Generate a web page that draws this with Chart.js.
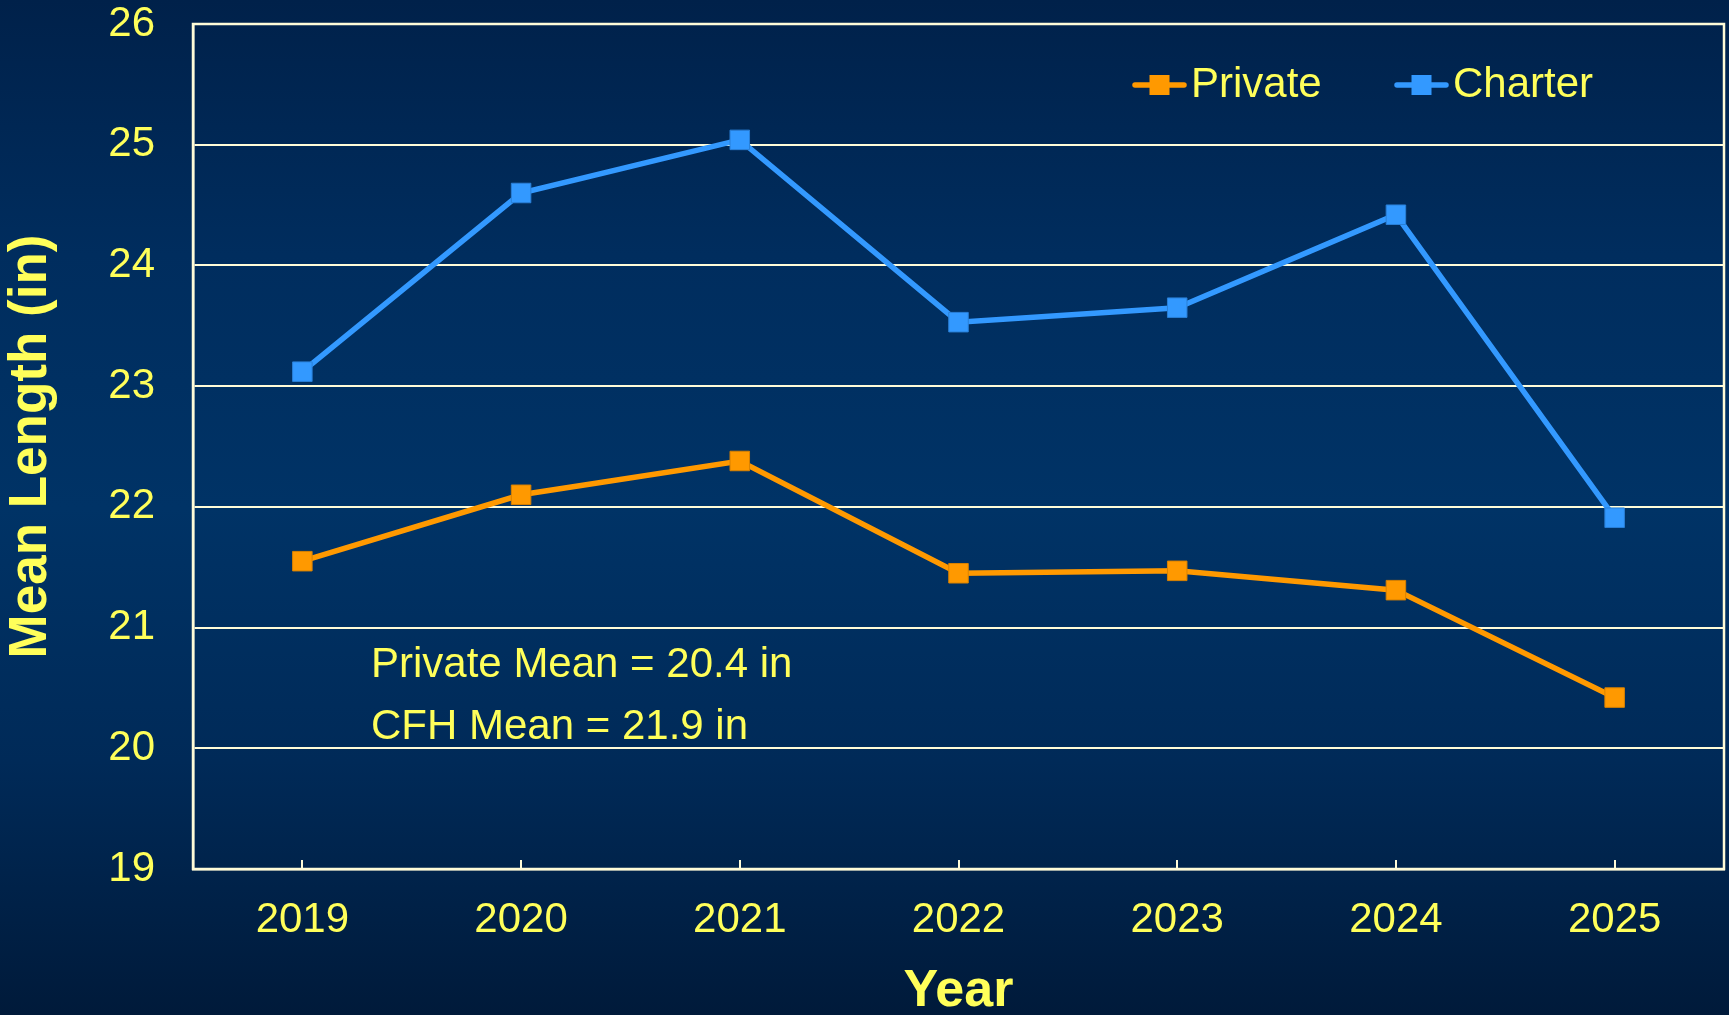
<!DOCTYPE html>
<html lang="en">
<head>
    <meta charset="UTF-8">
    <title>Mean Length by Year</title>
    <script src="https://cdn.jsdelivr.net/npm/chart.js"></script>
    <style>
        html, body {
            margin: 0;
            padding: 0;
            width: 1729px;
            height: 1015px;
            overflow: hidden;
        }
        body {
            background: linear-gradient(to bottom, #00214a 0%, #002d5e 25%, #003366 50%, #002a58 75%, #001a3a 100%);
            font-family: 'Liberation Sans', Arial, sans-serif;
        }
        #wrap {
            position: relative;
            width: 1729px;
            height: 1015px;
        }
    </style>
</head>
<body>
    <div id="wrap">
        <canvas id="lengthChart" width="1729" height="1015"></canvas>
    </div>

    <script>
        const years = ['2019', '2020', '2021', '2022', '2023', '2024', '2025'];
        const privateLength = [21.55, 22.10, 22.38, 21.45, 21.47, 21.31, 20.42];
        const charterLength = [23.12, 24.60, 25.04, 23.53, 23.65, 24.42, 21.91];
        const meanNotes = ['Private Mean = 20.4 in', 'CFH Mean = 21.9 in'];

        const yellow = '#ffff5a';
        const cream = '#fffcd8';
        const font = "'Liberation Sans', Arial, sans-serif";

        // frame, inward x ticks, legend and mean notes
        const extras = {
            id: 'extras',
            afterDraw(chart) {
                const ctx = chart.ctx;
                const area = chart.chartArea;
                const xs = chart.scales.x;
                ctx.save();

                ctx.strokeStyle = cream;
                ctx.lineWidth = 2.5;
                ctx.strokeRect(area.left, area.top, area.right - area.left, area.bottom - area.top);

                ctx.lineWidth = 2;
                xs.ticks.forEach((t, i) => {
                    const px = Math.round(xs.getPixelForTick(i));
                    ctx.beginPath();
                    ctx.moveTo(px, area.bottom);
                    ctx.lineTo(px, area.bottom - 9);
                    ctx.stroke();
                });

                // legend
                const legendX = [1133, 1395];
                chart.data.datasets.forEach((ds, i) => {
                    const x0 = legendX[i];
                    const y0 = 85;
                    ctx.strokeStyle = ds.borderColor;
                    ctx.lineWidth = 5.5;
                    ctx.lineCap = 'round';
                    ctx.beginPath();
                    ctx.moveTo(x0 + 2, y0);
                    ctx.lineTo(x0 + 51, y0);
                    ctx.stroke();
                    ctx.fillStyle = ds.backgroundColor;
                    ctx.fillRect(x0 + 16.5, y0 - 10, 20, 20);
                    ctx.fillStyle = yellow;
                    ctx.font = '42px ' + font;
                    ctx.textBaseline = 'middle';
                    ctx.textAlign = 'left';
                    ctx.fillText(ds.label, x0 + 58, y0);
                });

                // mean notes
                ctx.fillStyle = yellow;
                ctx.font = '42px ' + font;
                ctx.textBaseline = 'middle';
                ctx.textAlign = 'left';
                meanNotes.forEach((txt, i) => {
                    ctx.fillText(txt, 371, 665 + i * 62);
                });

                ctx.restore();
            }
        };

        new Chart(document.getElementById('lengthChart').getContext('2d'), {
            type: 'line',
            data: {
                labels: years,
                datasets: [
                    {
                        label: 'Private',
                        data: privateLength,
                        borderColor: '#ff9900',
                        backgroundColor: '#ff9900',
                        pointBorderColor: '#d98200',
                        borderWidth: 5.5,
                        pointStyle: 'rect',
                        pointRadius: 13.8,
                        pointBorderWidth: 1,
                        tension: 0
                    },
                    {
                        label: 'Charter',
                        data: charterLength,
                        borderColor: '#3399ff',
                        backgroundColor: '#3399ff',
                        pointBorderColor: '#2a80d8',
                        borderWidth: 5.5,
                        pointStyle: 'rect',
                        pointRadius: 13.8,
                        pointBorderWidth: 1,
                        tension: 0
                    }
                ]
            },
            options: {
                responsive: false,
                animation: false,
                layout: {
                    autoPadding: false,
                    padding: { top: 24, right: 5, left: 0, bottom: 0 }
                },
                plugins: {
                    legend: { display: false },
                    tooltip: { enabled: false }
                },
                scales: {
                    x: {
                        offset: true,
                        afterFit: (scale) => {
                            scale.height = 146;
                            scale.paddingLeft = 0;
                            scale.paddingRight = 0;
                        },
                        grid: { display: false, drawTicks: false },
                        border: { display: true, color: cream, width: 2.5 },
                        ticks: {
                            color: yellow,
                            font: { family: font, size: 42 },
                            padding: 26,
                            maxRotation: 0
                        },
                        title: {
                            display: true,
                            text: 'Year',
                            color: yellow,
                            font: { family: font, size: 52, weight: 'bold', lineHeight: 0.9 },
                            padding: 0
                        }
                    },
                    y: {
                        min: 19,
                        max: 26,
                        afterFit: (scale) => {
                            scale.width = 193;
                            scale.paddingTop = 0;
                            scale.paddingBottom = 0;
                        },
                        grid: { color: cream, lineWidth: 2, drawTicks: false },
                        border: { display: true, color: cream, width: 2.5 },
                        ticks: {
                            stepSize: 1,
                            color: yellow,
                            font: { family: font, size: 42 },
                            padding: 38
                        },
                        title: {
                            display: true,
                            text: 'Mean Length (in)',
                            color: yellow,
                            font: { family: font, size: 53, weight: 'bold' },
                            padding: 0
                        }
                    }
                }
            },
            plugins: [extras]
        });
    </script>
</body>
</html>
